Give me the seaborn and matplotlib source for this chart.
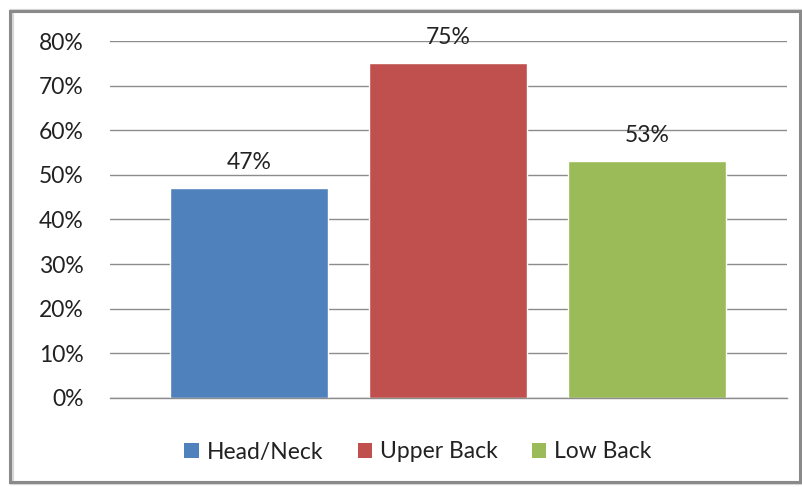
import matplotlib
matplotlib.use("Agg")
import matplotlib.pyplot as plt
from matplotlib.patches import Rectangle, Patch
from matplotlib.ticker import PercentFormatter
import seaborn as sns
import pandas as pd

# Share of respondents reporting pain, by body region
regions = ["Head/Neck", "Upper Back", "Low Back"]
shares = [0.47, 0.75, 0.53]
colors = ["#4F81BD", "#C0504D", "#9BBB59"]
y_ticks = [0.0, 0.1, 0.2, 0.3, 0.4, 0.5, 0.6, 0.7, 0.8]

sns.set_style("white")
plt.rcParams["font.family"] = ["Lato", "DejaVu Sans"]

df = pd.DataFrame({"region": regions, "share": shares})

fig = plt.figure(figsize=(8.02, 4.87), dpi=100)
ax = fig.add_axes([0.1372, 0.1828, 0.8441, 0.7330])

sns.barplot(data=df, x="region", y="share", hue="region", palette=colors,
            width=0.794, legend=False, ax=ax, saturation=1)

ax.set_xlim(-0.698, 2.704)
ax.set_ylim(0, 0.8)
ax.set_yticks(y_ticks)
ax.yaxis.set_major_formatter(PercentFormatter(1.0, decimals=0))
ax.set_xticks([])
ax.set_xlabel("")
ax.set_ylabel("")
ax.tick_params(axis="y", length=0, pad=19, labelsize=16.5, labelcolor="#222222")
ax.grid(axis="y", color="#8c8c8c", linewidth=1.0)
ax.set_axisbelow(True)
for side in ["left", "right", "top"]:
    ax.spines[side].set_visible(False)
ax.spines["bottom"].set_color("#8c8c8c")
ax.spines["bottom"].set_linewidth(1.0)

for cont in ax.containers:
    ax.bar_label(cont, labels=[f"{v*100:.0f}%" for v in cont.datavalues],
                 padding=11, fontsize=16.5, color="#222222")

handles = [Patch(facecolor=c, edgecolor="none") for c in colors]
fig.legend(handles, regions, loc="center", bbox_to_anchor=(418 / 802, 1 - 452 / 487),
           ncol=3, frameon=False, fontsize=16.5, handlelength=0.62, handleheight=0.62,
           handletextpad=0.35, columnspacing=1.5, labelcolor="#222222")

# Chart frame with a soft shadow
fig.patches.append(Rectangle((12 / 802, 4 / 487), 790 / 802, 472 / 487,
                             transform=fig.transFigure, facecolor="none",
                             edgecolor="#d8d8d8", linewidth=3, zorder=0))
fig.patches.append(Rectangle((10 / 802, 5 / 487), 790 / 802, 471 / 487,
                             transform=fig.transFigure, facecolor="none",
                             edgecolor="#8a8a8a", linewidth=2.2, zorder=1))

fig.savefig("out.png", dpi=100)
